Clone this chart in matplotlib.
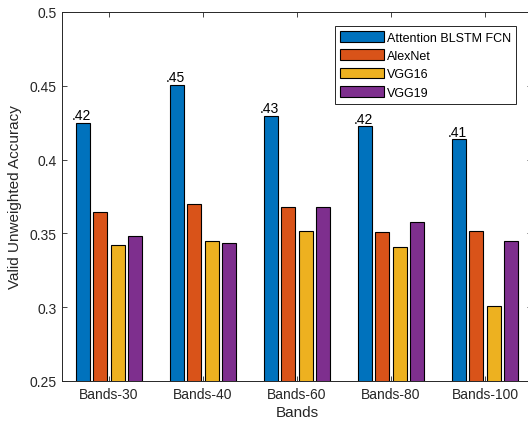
import matplotlib
matplotlib.use('Agg')
import matplotlib.pyplot as plt
import numpy as np

plt.rcParams['font.family'] = ['Liberation Sans', 'DejaVu Sans']

bands = ['Bands-30', 'Bands-40', 'Bands-60', 'Bands-80', 'Bands-100']
models = ['Attention BLSTM FCN', 'AlexNet', 'VGG16', 'VGG19']

attention = [0.4248, 0.4507, 0.4297, 0.4225, 0.4137]
alexnet = [0.3647, 0.3696, 0.3678, 0.3507, 0.3516]
vgg16 = [0.3421, 0.3448, 0.3516, 0.3407, 0.3005]
vgg19 = [0.3480, 0.3437, 0.3678, 0.3576, 0.3446]

colors = ['#0072BD', '#D95319', '#EDB120', '#7E2F8E']
axis_grey = '#262626'

fig = plt.figure(figsize=(5.28, 4.27), dpi=100)
ax = fig.add_axes([62/528, 1 - 382/427, 470/528, 369/427])

x = np.arange(1, len(bands) + 1)
pitch = 0.181
width = 0.149
series = [attention, alexnet, vgg16, vgg19]

for i, (vals, name, c) in enumerate(zip(series, models, colors)):
    off = (i - 1.5) * pitch
    ax.bar(x + off, vals, width, color=c, edgecolor='black', linewidth=0.8, label=name, zorder=2)

# value labels on the attention bars
for xi, v in zip(x, attention):
    label = f'{v:.2f}'.lstrip('0')
    ax.text(xi - 1.5 * pitch - 0.02, v + 0.0005, label, ha='center', va='bottom',
            fontsize=10, color='black')

ax.set_xlim(0.5, 5.5)
ax.set_ylim(0.25, 0.5)
ax.set_xticks(x)
ax.set_xticklabels(bands)
ax.set_yticks([0.25, 0.3, 0.35, 0.4, 0.45, 0.5])
ax.set_yticklabels(['0.25', '0.3', '0.35', '0.4', '0.45', '0.5'])

ax.tick_params(direction='in', length=3.5, width=0.6, top=True, right=True,
               labelsize=10, colors=axis_grey, pad=4)
for s in ax.spines.values():
    s.set_color(axis_grey)
    s.set_linewidth(0.7)

ax.set_xlabel('Bands', fontsize=11, color=axis_grey, labelpad=3)
ax.set_ylabel('Valid Unweighted Accuracy', fontsize=11, color=axis_grey, labelpad=5)

leg = ax.legend(loc='upper right', bbox_to_anchor=(0.967, 0.962), borderaxespad=0,
                fontsize=9, fancybox=False, framealpha=1, edgecolor=axis_grey,
                handlelength=3.5, handleheight=0.95, labelspacing=0.45,
                handletextpad=0.3, borderpad=0.4)
leg.get_frame().set_linewidth(0.7)

fig.savefig('out.png', dpi=100)
